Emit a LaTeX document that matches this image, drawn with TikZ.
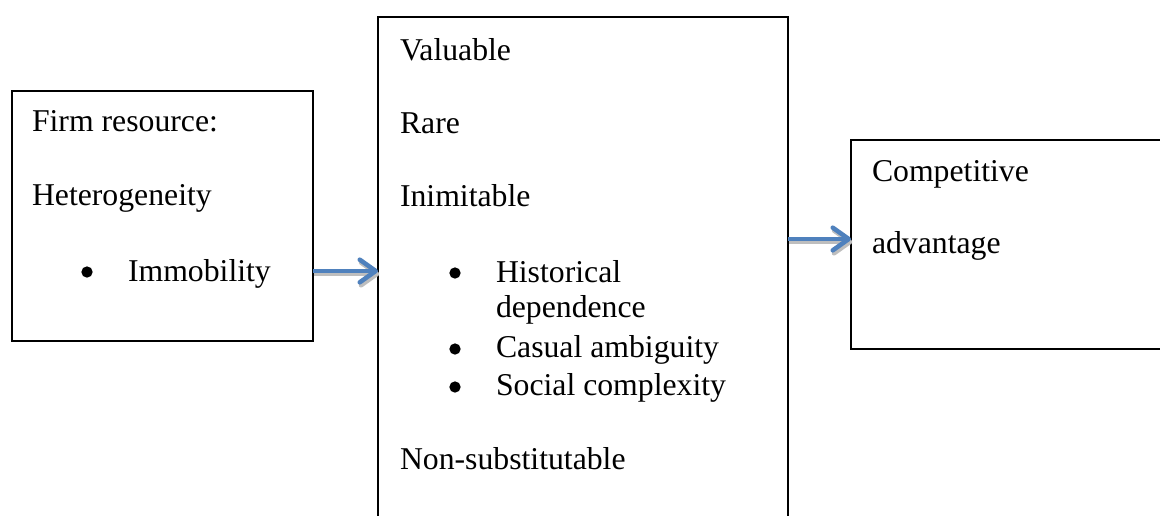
\documentclass[tikz,border=0pt]{standalone}
\usepackage{fontspec}
\setmainfont{Liberation Serif}
\usetikzlibrary{arrows.meta}
\definecolor{arrowblue}{RGB}{79,129,189}
\definecolor{shadowgray}{RGB}{190,190,190}
\tikzset{
  box/.style={draw=black, line width=1.5pt, rectangle, inner sep=0pt, outer sep=0pt, fill=none},
  txt/.style={anchor=base west, inner sep=0pt, outer sep=0pt, font=\fontsize{23.8}{28}\selectfont},
  bulletdot/.style={circle, fill=black, inner sep=0pt, minimum size=8.5pt},
  flowarrow/.style={draw=arrowblue, line width=3.4pt, -{Straight Barb[length=12pt, width=17pt, round]}},
  flowshadow/.style={draw=shadowgray, line width=3.4pt, -{Straight Barb[length=12pt, width=17pt, round]}, transform canvas={shift={(1pt,-2.2pt)}}}
}
\begin{document}
\begin{tikzpicture}[x=0.75pt, y=-0.75pt]
\useasboundingbox (0,0) rectangle (1160,515);
\clip (0,0) rectangle (1160,515);
\fill[white] (0,0) rectangle (1160,515);

% boxes
\node[box, minimum width=225.75pt, minimum height=187.5pt] (left) at (162.5,216) {};
\node[box, minimum width=307.5pt, minimum height=384.75pt] (mid) at (583,273.5) {};
\node[box, minimum width=239.25pt, minimum height=156.75pt] (right) at (1010.5,244.5) {};

% left box text
\node[txt] (t1) at (32,131) {Firm resource:};
\node[txt] (t2) at (32,205) {Heterogeneity};
\node[bulletdot] (b1) at (87,272) {};
\node[txt] (t3) at (128,281) {Immobility};

% middle box text
\node[txt] (m1) at (400,60) {Valuable};
\node[txt] (m2) at (400,133) {Rare};
\node[txt] (m3) at (400,206) {Inimitable};
\node[bulletdot] (mb1) at (455,273) {};
\node[txt] (m4) at (496,282) {Historical};
\node[txt] (m5) at (496,317) {dependence};
\node[bulletdot] (mb2) at (455,349) {};
\node[txt] (m6) at (496,357) {Casual ambiguity};
\node[bulletdot] (mb3) at (455,387) {};
\node[txt] (m7) at (496,395) {Social complexity};
\node[txt] (m8) at (400,469) {Non-substitutable};

% right box text
\node[txt] (r1) at (872,181) {Competitive};
\node[txt] (r2) at (872,253) {advantage};

% connectors
\coordinate (a1) at (left.east |- 0,271);
\coordinate (a2) at (mid.east |- 0,239);
\draw[flowshadow] (a1) -- (mid.west |- a1);
\draw[flowarrow] (a1) -- (mid.west |- a1);
\draw[flowshadow] (a2) -- (right.west |- a2);
\draw[flowarrow] (a2) -- (right.west |- a2);
\end{tikzpicture}
\end{document}
